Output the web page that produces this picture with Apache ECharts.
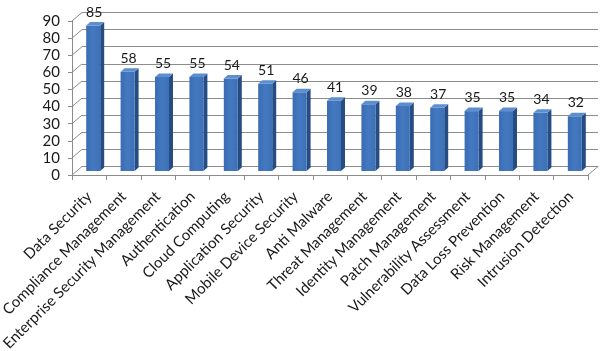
<!DOCTYPE html>
<html>
<head>
<meta charset="utf-8">
<script src="https://cdn.jsdelivr.net/npm/echarts@6/dist/echarts.min.js"></script>
<style>
html,body{margin:0;padding:0;background:#fff;}
#c{width:607px;height:351px;}
</style>
</head>
<body>
<div id="c"></div>
<script>
const categories = [
  'Data Security', 'Compliance Management', 'Enterprise Security Management',
  'Authentication', 'Cloud Computing', 'Application Security',
  'Mobile Device Security', 'Anti Malware', 'Threat Management',
  'Identity Management', 'Patch Management', 'Vulnerability Assessment',
  'Data Loss Prevention', 'Risk Management', 'Intrusion Detection'
];
const values = [85, 58, 55, 55, 54, 51, 46, 41, 39, 38, 37, 35, 35, 34, 32];
const yTicks = [0, 10, 20, 30, 40, 50, 60, 70, 80, 90];

const FONT = 'Lato';
const DEPTH_X = 10, DEPTH_Y = -8.5;
const GRID_COLOR = '#8c8c8c';

const chart = echarts.init(document.getElementById('c'), null, {renderer: 'canvas'});

function wallRender(params, api) {
  const cs = params.coordSys;
  const v = api.value(0);
  const p = api.coord([0, v]);
  const children = [{
    type: 'line',
    shape: {x1: cs.x, y1: p[1], x2: cs.x + DEPTH_X, y2: p[1] + DEPTH_Y},
    style: {stroke: GRID_COLOR, lineWidth: 1}
  }];
  if (params.dataIndex === 0) {
    children.push({
      type: 'line',
      shape: {x1: cs.x + cs.width, y1: p[1], x2: cs.x + cs.width + DEPTH_X, y2: p[1] + DEPTH_Y},
      style: {stroke: GRID_COLOR, lineWidth: 1}
    });
  }
  return {type: 'group', children};
}

function barRender(params, api) {
  const i = api.value(0);
  const v = api.value(1);
  const top = api.coord([i, v]);
  const base = api.coord([i, 0]);
  const bw = 14, dx = 4, dy = -4, sx = 4, sy = -3.5;
  const x0 = top[0] - bw / 2 + dx;
  const x1 = x0 + bw;
  const yt = top[1] + dy;
  const yb = base[1] + dy;
  return {
    type: 'group',
    children: [
      {
        type: 'polygon',
        shape: {points: [[x1, yt], [x1 + sx, yt + sy], [x1 + sx, yb + sy], [x1, yb]]},
        style: {fill: '#254d84'}
      },
      {
        type: 'rect',
        shape: {x: x0, y: yt, width: bw, height: yb - yt},
        style: {fill: new echarts.graphic.LinearGradient(0, 0, 1, 0, [
          {offset: 0, color: '#3a6cb2'}, {offset: 0.5, color: '#4479c0'}, {offset: 1, color: '#3d70b6'}
        ])}
      },
      {
        type: 'polygon',
        shape: {points: [[x0, yt], [x0 + sx, yt + sy], [x1 + sx, yt + sy], [x1, yt]]},
        style: {fill: '#5d8fd0'}
      },
      {
        type: 'text',
        style: {
          text: String(v), x: (x0 + x1) / 2 + 1, y: yt + sy - 3,
          align: 'center', verticalAlign: 'bottom',
          font: '14px ' + FONT, fill: '#1a1a1a'
        }
      }
    ]
  };
}

chart.setOption({
  backgroundColor: '#ffffff',
  animation: false,
  grid: [
    {left: 72, right: 19, top: 21, bottom: 176, containLabel: false, outerBoundsMode: 'none'},
    {left: 82, right: 9, top: 12.5, bottom: 184.5, containLabel: false, outerBoundsMode: 'none'}
  ],
  xAxis: [
    {
      type: 'category', gridIndex: 0, data: categories, boundaryGap: true,
      axisLine: {show: true, lineStyle: {color: GRID_COLOR, width: 1}},
      axisTick: {show: true, length: 5, interval: 0, lineStyle: {color: GRID_COLOR}},
      axisLabel: {rotate: 45, interval: 0, margin: 19, fontFamily: FONT, fontSize: 15, color: '#1a1a1a', hideOverlap: false},
      splitLine: {show: false}
    },
    {
      type: 'category', gridIndex: 1, data: categories, boundaryGap: true,
      axisLine: {show: true, lineStyle: {color: GRID_COLOR, width: 1}},
      axisTick: {show: false}, axisLabel: {show: false}, splitLine: {show: false}
    }
  ],
  yAxis: [
    {
      type: 'value', gridIndex: 0, min: 0, max: 90, interval: 10,
      axisLine: {show: true, lineStyle: {color: GRID_COLOR, width: 1}},
      axisTick: {show: true, length: 4, lineStyle: {color: GRID_COLOR}},
      axisLabel: {margin: 12, fontFamily: FONT, fontSize: 15, color: '#1a1a1a'},
      splitLine: {show: false}
    },
    {
      type: 'value', gridIndex: 1, min: 0, max: 90, interval: 10,
      axisLine: {show: false}, axisTick: {show: false}, axisLabel: {show: false},
      splitLine: {show: true, lineStyle: {color: GRID_COLOR, width: 1}}
    }
  ],
  series: [
    {
      type: 'custom', xAxisIndex: 0, yAxisIndex: 0,
      data: yTicks.map(v => [v]),
      encode: {y: 0},
      renderItem: wallRender, silent: true, z: 1
    },
    {
      type: 'custom', xAxisIndex: 0, yAxisIndex: 0,
      data: values.map((v, i) => [i, v]),
      encode: {x: 0, y: 1},
      renderItem: barRender, z: 5
    }
  ]
});
</script>
</body>
</html>
